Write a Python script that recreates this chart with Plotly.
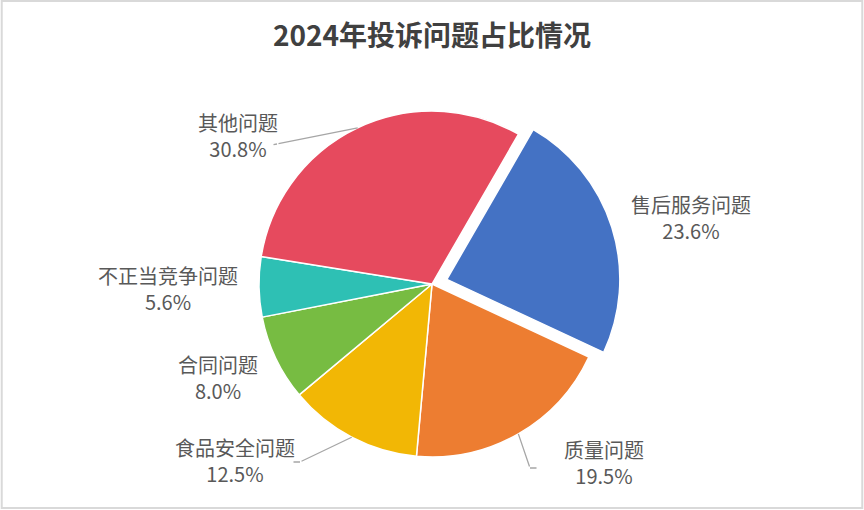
import math
import plotly.graph_objects as go

# 数据
labels = ['售后服务问题', '质量问题', '食品安全问题', '合同问题', '不正当竞争问题', '其他问题']
values = [23.6, 19.5, 12.5, 8.0, 5.6, 30.8]
colors = ['#4472C4', '#ED7D31', '#F2B705', '#77BC42', '#2EC0B4', '#E64A5E']
pulls = [0.09, 0, 0, 0, 0, 0]

W, H = 864, 510
CX, CY, R = 432, 284, 173   # 饼图中心/半径（像素）
ROT = 30

# 标签位置（像素，文本块中心）
label_pos = {
    '售后服务问题': (691, 217),
    '质量问题': (604, 462),
    '食品安全问题': (235, 460),
    '合同问题': (218, 377),
    '不正当竞争问题': (168, 288),
    '其他问题': (238, 136),
}
# 引导线：拐点和终点（像素）
leaders = {
    '质量问题': ((530, 468), (538, 468)),
    '食品安全问题': ((300, 462), (292, 462)),
    '其他问题': ((277, 144), (272, 145)),
}
label_font = dict(size=20, color='#595959', family='Noto Sans CJK SC')
line_col = '#A6A6A6'

half = R * (1 + max(pulls))
fig = go.Figure(go.Pie(
    labels=labels,
    values=values,
    sort=False,
    direction='clockwise',
    rotation=ROT,
    pull=pulls,
    marker=dict(colors=colors, line=dict(color='white', width=1.5)),
    textinfo='none',
    hoverinfo='label+percent',
    domain=dict(x=[(CX - half) / W, (CX + half) / W],
                y=[(H - CY - half) / H, (H - CY + half) / H]),
    showlegend=False,
))


def seg(p0, p1):
    # 从 p1 画到 p0 的细线（像素坐标）
    return dict(x=p0[0] / W, y=1 - p0[1] / H, xref='paper', yref='paper',
                ax=p1[0] - p0[0], ay=p1[1] - p0[1], axref='pixel', ayref='pixel',
                text='', showarrow=True, arrowhead=0, arrowwidth=1.3,
                arrowcolor=line_col, standoff=0, startstandoff=0)


total = sum(values)
cum = 0
annotations = []
for lab, v in zip(labels, values):
    mid = ROT + (cum + v / 2) / total * 360
    cum += v
    lx, ly = label_pos[lab]
    annotations.append(dict(
        x=lx / W, y=1 - ly / H, xref='paper', yref='paper',
        xanchor='center', yanchor='middle',
        text=f'{lab}<br>{v / total * 100:.1f}%', showarrow=False, font=label_font,
    ))
    if lab in leaders:
        # 引导线起点：扇区外缘中点
        px = CX + R * math.sin(math.radians(mid))
        py = CY - R * math.cos(math.radians(mid))
        elbow, end = leaders[lab]
        annotations.append(seg((px, py), elbow))
        annotations.append(seg(elbow, end))

fig.update_layout(
    width=W, height=H,
    margin=dict(l=0, r=0, t=0, b=0),
    paper_bgcolor='white',
    title=dict(text='<b>2024年投诉问题占比情况</b>', x=0.5, xanchor='center',
               y=1 - 36 / H, yanchor='middle',
               font=dict(size=28, color='#404040', family='Noto Sans CJK SC')),
    annotations=annotations,
    shapes=[dict(type='rect', xref='paper', yref='paper', x0=0.002, y0=0.004,
                 x1=0.998, y1=0.998, line=dict(color='#D9D9D9', width=2))],
)

fig.write_html('out.html', config={'displayModeBar': False},
               post_script="document.body.style.margin='0';")
